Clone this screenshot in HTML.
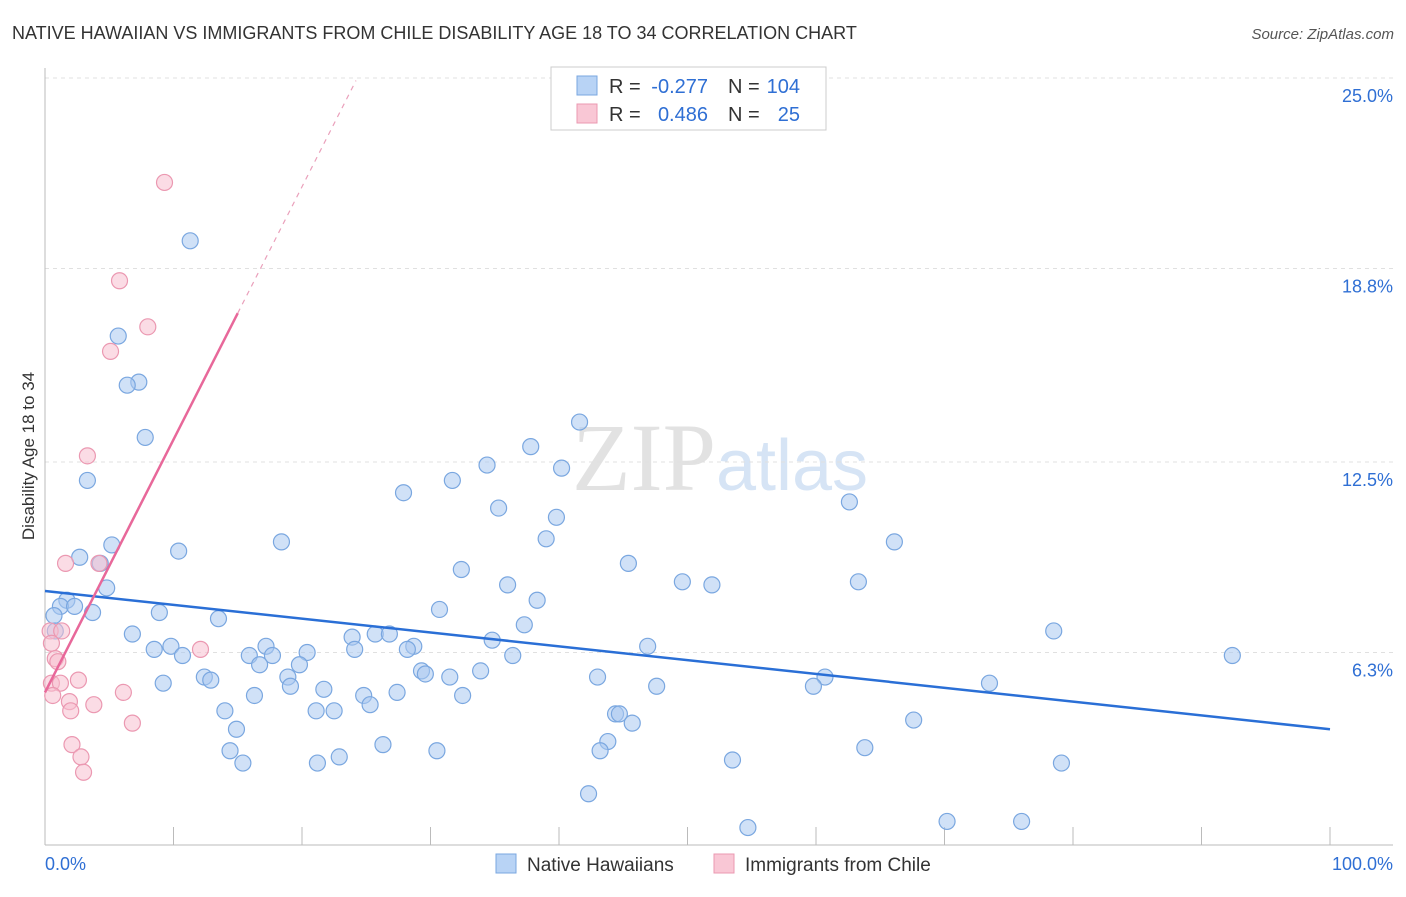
<!DOCTYPE html>
<html><head><meta charset="utf-8"><style>
body{margin:0;background:#fff;font-family:"Liberation Sans",sans-serif;}
svg text{font-family:"Liberation Sans",sans-serif;}
</style></head><body>
<svg id="c" width="1406" height="892" xmlns="http://www.w3.org/2000/svg">
<text x="12" y="39" font-size="18" fill="#333">NATIVE HAWAIIAN VS IMMIGRANTS FROM CHILE DISABILITY AGE 18 TO 34 CORRELATION CHART</text>
<text x="1394" y="39" font-size="15" fill="#555" text-anchor="end" font-style="italic">Source: ZipAtlas.com</text>
<text x="720" y="490" font-size="96" fill="#e6e6e6" text-anchor="middle" font-family="Liberation Serif"><tspan font-family="Liberation Serif" fill="#e2e2e2">ZIP</tspan><tspan font-family="Liberation Sans" font-size="72" fill="#d6e4f5">atlas</tspan></text>
<text transform="translate(34,456) rotate(-90)" font-size="17" fill="#333" text-anchor="middle">Disability Age 18 to 34</text>
<g id="grid"></g><g id="pts"></g><g id="lines"></g>
<g>
<rect x="551" y="67" width="275" height="63" fill="#fff" stroke="#ccc"/>
<rect x="577" y="76" width="20" height="19" fill="#b8d3f5" stroke="#7aa7e0"/>
<rect x="577" y="104" width="20" height="19" fill="#f9c7d5" stroke="#eb98b1"/>
<text x="609" y="93" font-size="20" fill="#333">R =</text>
<text x="708" y="93" font-size="20" fill="#2f6fd4" text-anchor="end">-0.277</text>
<text x="728" y="93" font-size="20" fill="#333">N =</text>
<text x="800" y="93" font-size="20" fill="#2f6fd4" text-anchor="end">104</text>
<text x="609" y="121" font-size="20" fill="#333">R =</text>
<text x="708" y="121" font-size="20" fill="#2f6fd4" text-anchor="end">0.486</text>
<text x="728" y="121" font-size="20" fill="#333">N =</text>
<text x="800" y="121" font-size="20" fill="#2f6fd4" text-anchor="end">25</text>
</g>
<g>
<rect x="496" y="854" width="20" height="19" fill="#b8d3f5" stroke="#7aa7e0"/>
<text x="527" y="871" font-size="19" fill="#333">Native Hawaiians</text>
<rect x="714" y="854" width="20" height="19" fill="#f9c7d5" stroke="#eb98b1"/>
<text x="745" y="871" font-size="19" fill="#333">Immigrants from Chile</text>
</g>
</svg>
<script>
const yTicks=[6.3,12.5,18.8,25.0];
const yTickLabels=["6.3%","12.5%","18.8%","25.0%"];
const xLabels=["0.0%","100.0%"];
const blueX=[11.3,5.7,7.3,6.4,7.8,3.3,41.6,37.8,34.4,40.2,31.7,27.9,35.3,39.8,62.6,39.0,18.4,10.4,5.2,2.7,66.1,45.4,32.4,4.3,49.6,51.9,63.3,36.0,4.8,38.3,1.7,1.2,2.3,3.7,0.7,8.9,30.7,13.5,0.8,37.3,78.5,6.8,23.9,25.7,26.8,34.8,46.9,28.7,8.5,9.8,17.2,10.7,20.4,24.1,28.2,36.4,15.9,17.7,92.4,16.7,19.8,29.3,29.6,33.9,31.5,18.9,43.0,60.7,9.2,12.4,12.9,19.1,21.7,47.6,59.8,73.5,24.8,27.4,32.5,16.3,25.3,14.0,21.1,22.5,44.4,44.7,67.6,14.9,45.7,43.8,26.3,43.2,30.5,14.4,63.8,22.9,21.2,15.4,53.5,79.1,42.3,70.2,76.0,54.7];
const blueY=[19.7,16.6,15.1,15.0,13.3,11.9,13.8,13.0,12.4,12.3,11.9,11.5,11.0,10.7,11.2,10.0,9.9,9.6,9.8,9.4,9.9,9.2,9.0,9.2,8.6,8.5,8.6,8.5,8.4,8.0,8.0,7.8,7.8,7.6,7.5,7.6,7.7,7.4,7.0,7.2,7.0,6.9,6.8,6.9,6.9,6.7,6.5,6.5,6.4,6.5,6.5,6.2,6.3,6.4,6.4,6.2,6.2,6.2,6.2,5.9,5.9,5.7,5.6,5.7,5.5,5.5,5.5,5.5,5.3,5.5,5.4,5.2,5.1,5.2,5.2,5.3,4.9,5.0,4.9,4.9,4.6,4.4,4.4,4.4,4.3,4.3,4.1,3.8,4.0,3.4,3.3,3.1,3.1,3.1,3.2,2.9,2.7,2.7,2.8,2.7,1.7,0.8,0.8,0.6];
const pinkX=[9.3,5.8,8.0,5.1,3.3,1.6,4.2,0.4,1.3,0.5,0.8,1.0,2.6,0.5,1.2,12.1,6.1,0.6,1.9,3.8,2.0,6.8,2.1,2.8,3.0];
const pinkY=[21.6,18.4,16.9,16.1,12.7,9.2,9.2,7.0,7.0,6.6,6.1,6.0,5.4,5.3,5.3,6.4,5.0,4.9,4.7,4.6,4.4,4.0,3.3,2.9,2.4];
const blueTrend=[8.3,3.8];
const pinkTrend=[5.0,0.823];
const NS="http://www.w3.org/2000/svg";
const X=v=>45+v*12.85, Y=v=>846-v*30.72;
function mk(p,tag,a){const e=document.createElementNS(NS,tag);for(const k in a)e.setAttribute(k,a[k]);p.appendChild(e);return e;}
const g=document.getElementById('grid');
yTicks.forEach((t,i)=>{
 const l=mk(g,'line',{x1:45,x2:1393,y1:Y(t),y2:Y(t),stroke:'#e0e0e0','stroke-dasharray':'4,4'});
 
 
 const tx=mk(g,'text',{x:1393,y:Y(t)+24,'font-size':18,fill:'#2f6fd4','text-anchor':'end'});tx.textContent=yTickLabels[i];
 
 
});
const ax=mk(g,'line',{x1:45,x2:1393,y1:845,y2:845,stroke:'#bbb'});


const ay=mk(g,'line',{x1:45,x2:45,y1:68,y2:845,stroke:'#bbb'});


for(let i=1;i<=10;i++){const t=mk(g,'line',{x1:X(i*10),x2:X(i*10),y1:827,y2:845,stroke:'#bbb'});
 
 }
[[0,'start',45],[1,'end',1393]].forEach(([i,a,x])=>{const t=mk(g,'text',{x:x,y:870,'font-size':18,fill:'#2f6fd4','text-anchor':a});t.textContent=xLabels[i];
 
 });
const P=document.getElementById('pts');
blueX.forEach((v,i)=>{const c=mk(P,'circle',{cx:X(v),cy:Y(blueY[i]),r:8,fill:'#a9c8f0','fill-opacity':0.55,stroke:'#7aa7e0','stroke-width':1.2});
 
 });
pinkX.forEach((v,i)=>{const c=mk(P,'circle',{cx:X(v),cy:Y(pinkY[i]),r:8,fill:'#f7bfd0','fill-opacity':0.55,stroke:'#eb98b1','stroke-width':1.2});
 
 });
const L=document.getElementById('lines');
const bl=mk(L,'line',{x1:X(0),y1:Y(blueTrend[0]),x2:X(100),y2:Y(blueTrend[1]),stroke:'#2a6fd6','stroke-width':2.5});


const pf=v=>pinkTrend[0]+pinkTrend[1]*v;
const pl=mk(L,'line',{x1:X(0),y1:Y(pf(0)),x2:X(15),y2:Y(pf(15)),stroke:'#e8689a','stroke-width':2.5});


const pd=mk(L,'line',{x1:X(15),y1:Y(pf(15)),x2:X(24.2),y2:Y(pf(24.2)),stroke:'#eaa0bb','stroke-width':1.2,'stroke-dasharray':'5,5'});


</script>
</body></html>
